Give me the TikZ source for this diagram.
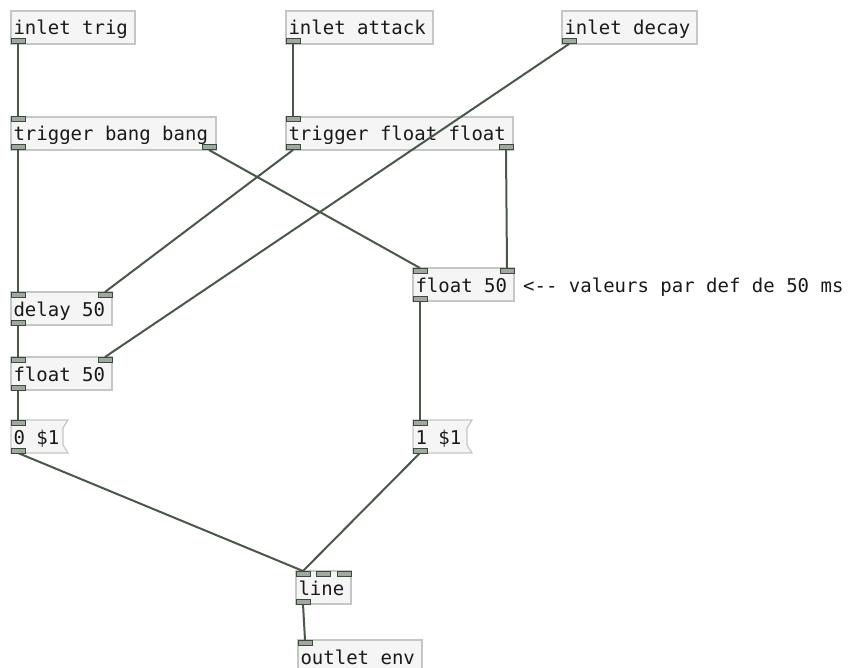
\documentclass[tikz,border=0pt]{standalone}
\usepackage{fontspec}
\newfontfamily\pdfont{DejaVu Sans Mono}
\usetikzlibrary{calc}
\definecolor{boxfill}{HTML}{F4F5F4}
\definecolor{boxdraw}{HTML}{C4C8C4}
\definecolor{wire}{HTML}{4A584A}
\definecolor{portfill}{HTML}{A0A8A0}
\definecolor{portdraw}{HTML}{3E4A3E}
\definecolor{txt}{HTML}{1A1A1A}
\newcommand\pdtxt[2]{\makebox[#1][l]{#2}}
\tikzset{
  pdobj/.style={draw=boxdraw, fill=boxfill, line width=1.2pt, anchor=north west,
    inner xsep=2.5pt, inner ysep=0pt, outer sep=0pt, text height=24pt, text depth=9pt,
    font=\pdfont\fontsize{19pt}{22pt}\selectfont, text=txt},
  pdmsg/.style={pdobj, draw=none, fill=none},
  msgshape/.style={draw=boxdraw, fill=boxfill, line width=1.2pt},
  port/.style={minimum width=14pt, minimum height=5pt, inner sep=0pt, outer sep=0pt},
  portbox/.style={draw=portdraw, fill=portfill, line width=1pt},
  wirestyle/.style={draw=wire, line width=2pt},
  commentstyle/.style={anchor=base west, inner sep=0pt, font=\pdfont\fontsize{19pt}{22pt}\selectfont, text=txt},
}
\begin{document}
\begin{tikzpicture}[x=1pt,y=-1pt]
\useasboundingbox (0,0) rectangle (848,668);
\fill[white] (0,0) rectangle (848,668);

% objects
\node[pdobj] (itrig) at (11,11) {\pdtxt{119pt}{inlet trig}};
\node[pdobj] (iatt) at (286,11) {\pdtxt{142pt}{inlet attack}};
\node[pdobj] (idec) at (562,11) {\pdtxt{130pt}{inlet decay}};
\node[pdobj] (tbb) at (11,117) {\pdtxt{200pt}{trigger bang bang}};
\node[pdobj] (tff) at (286,117) {\pdtxt{222pt}{trigger float float}};
\node[pdobj] (fR) at (413,268) {\pdtxt{96pt}{float 50}};
\node[pdobj] (del) at (11,292) {\pdtxt{96pt}{delay 50}};
\node[pdobj] (fL) at (11,357) {\pdtxt{96pt}{float 50}};
\node[pdobj] (line) at (296,571) {\pdtxt{50pt}{line}};
\node[pdobj] (oenv) at (298,640) {\pdtxt{119pt}{outlet env}};

% message boxes
\draw[msgshape] (11,420) -- (68,420) -- (63,428) -- (63,445) -- (68,453) -- (11,453) -- cycle;
\node[pdmsg] (m0) at (11,420) {\pdtxt{47pt}{0 \$1}};
\draw[msgshape] (413,420) -- (472,420) -- (467,428) -- (467,445) -- (472,453) -- (413,453) -- cycle;
\node[pdmsg] (m1) at (413,420) {\pdtxt{49pt}{1 \$1}};

% comment
\node[commentstyle] (cmt) at (523,292) {<-- valeurs par def de 50 ms};

% ports (placement)
\node[port, anchor=south west] (itrig-o0) at (itrig.south west) {};
\node[port, anchor=south west] (iatt-o0) at (iatt.south west) {};
\node[port, anchor=south west] (idec-o0) at (idec.south west) {};
\node[port, anchor=north west] (tbb-i0) at (tbb.north west) {};
\node[port, anchor=south west] (tbb-o0) at (tbb.south west) {};
\node[port, anchor=south east] (tbb-o1) at (tbb.south east) {};
\node[port, anchor=north west] (tff-i0) at (tff.north west) {};
\node[port, anchor=south west] (tff-o0) at (tff.south west) {};
\node[port, anchor=south east] (tff-o1) at (tff.south east) {};
\node[port, anchor=north west] (fR-i0) at (fR.north west) {};
\node[port, anchor=north east] (fR-i1) at (fR.north east) {};
\node[port, anchor=south west] (fR-o0) at (fR.south west) {};
\node[port, anchor=north west] (del-i0) at (del.north west) {};
\node[port, anchor=north east] (del-i1) at (del.north east) {};
\node[port, anchor=south west] (del-o0) at (del.south west) {};
\node[port, anchor=north west] (fL-i0) at (fL.north west) {};
\node[port, anchor=north east] (fL-i1) at (fL.north east) {};
\node[port, anchor=south west] (fL-o0) at (fL.south west) {};
\node[port, anchor=north west] (m0-i0) at (m0.north west) {};
\node[port, anchor=south west] (m0-o0) at (m0.south west) {};
\node[port, anchor=north west] (m1-i0) at (m1.north west) {};
\node[port, anchor=south west] (m1-o0) at (m1.south west) {};
\node[port, anchor=north west] (line-i0) at (line.north west) {};
\node[port, anchor=north west] (line-i1) at ($(line.north west)+(20.5,0)$) {};
\node[port, anchor=north east] (line-i2) at (line.north east) {};
\node[port, anchor=south west] (line-o0) at (line.south west) {};
\node[port, anchor=north west] (oenv-i0) at (oenv.north west) {};

% connections
\draw[wirestyle] (itrig-o0.south) -- (tbb-i0.north);
\draw[wirestyle] (iatt-o0.south) -- (tff-i0.north);
\draw[wirestyle] (idec-o0.south) -- (fL-i1.north);
\draw[wirestyle] (tbb-o0.south) -- (del-i0.north);
\draw[wirestyle] (tbb-o1.south) -- (fR-i0.north);
\draw[wirestyle] (tff-o0.south) -- (del-i1.north);
\draw[wirestyle] (tff-o1.south) -- (fR-i1.north);
\draw[wirestyle] (del-o0.south) -- (fL-i0.north);
\draw[wirestyle] (fL-o0.south) -- (m0-i0.north);
\draw[wirestyle] (fR-o0.south) -- (m1-i0.north);
\draw[wirestyle] (m0-o0.south) -- (line-i0.north);
\draw[wirestyle] (m1-o0.south) -- (line-i0.north);
\draw[wirestyle] (line-o0.south) -- (oenv-i0.north);

% ports (drawn)
\foreach \p in {itrig-o0,iatt-o0,idec-o0,tbb-i0,tbb-o0,tbb-o1,tff-i0,tff-o0,tff-o1,
  fR-i0,fR-i1,fR-o0,del-i0,del-i1,del-o0,fL-i0,fL-i1,fL-o0,m0-i0,m0-o0,m1-i0,m1-o0,
  line-i0,line-i1,line-i2,line-o0,oenv-i0}
  \draw[portbox] (\p.south west) rectangle (\p.north east);
\end{tikzpicture}
\end{document}
